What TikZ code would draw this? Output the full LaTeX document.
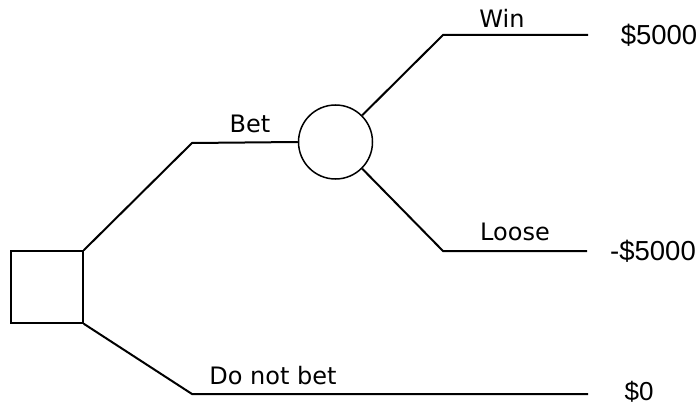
\documentclass[tikz,border=0pt]{standalone}
\usepackage{fontspec}
\newfontfamily\labfont{DejaVu Sans}
\newfontfamily\numfont{Liberation Sans}
\begin{document}
\begin{tikzpicture}[x=1pt,y=-1pt,
  branch/.style={line width=2pt},
  shapeline/.style={draw,line width=1.5pt,inner sep=0pt},
  lab/.style={font=\labfont\fontsize{24}{26}\selectfont,inner sep=0pt},
  pay/.style={font=\numfont\fontsize{27.5}{30}\selectfont,inner sep=0pt},
  paysmall/.style={font=\numfont\fontsize{26}{28}\selectfont,inner sep=0pt}]
\useasboundingbox (0,0) rectangle (698,406);
\node[shapeline,rectangle,minimum width=72pt,minimum height=72pt] (dec) at (47,287) {};
\node[shapeline,circle,minimum size=74pt] (chance) at (335.5,142) {};
\coordinate (b1) at (192,143);
\coordinate (w1) at (443,35);
\coordinate (w2) at (588,35);
\coordinate (l1) at (443,251);
\coordinate (l2) at (587,251);
\coordinate (d1) at (192,394);
\coordinate (d2) at (588,394);
\draw[branch] (dec.north east) -- (b1) -- (chance.west);
\draw[branch] (chance.45) -- (w1) -- (w2);
\draw[branch] (chance.-45) -- (l1) -- (l2);
\draw[branch] (dec.south east) -- (d1) -- (d2);
\node[lab] (tbet) at (250,124) {Bet};
\node[lab] (twin) at (502,18) {Win};
\node[lab] (tloose) at (515,232) {Loose};
\node[lab] (tdnb) at (273,376) {Do not bet};
\node[pay] (p1) at (659,35) {\$5000};
\node[pay] (p2) at (653,251) {-\$5000};
\node[paysmall] (p3) at (639,392) {\$0};
\end{tikzpicture}
\end{document}
